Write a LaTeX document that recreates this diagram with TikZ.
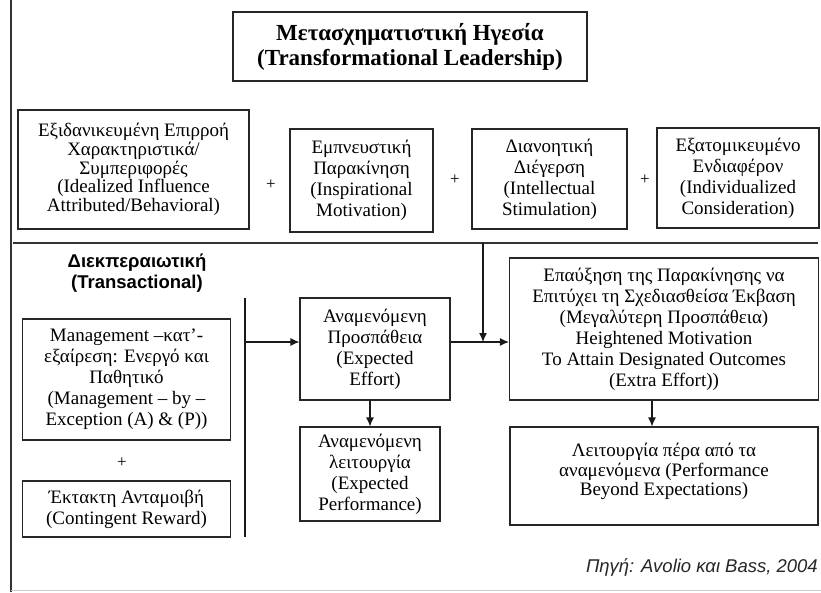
\documentclass[tikz,border=0pt]{standalone}
\usepackage{fontspec}
\setmainfont{Liberation Serif}
\setsansfont{Liberation Sans}
\usepackage{tikz}
\usetikzlibrary{calc,positioning,arrows.meta}

\begin{document}
\begin{tikzpicture}[x=1pt,y=-1pt]
\tikzstyle{box}=[draw=black!85, line width=1.1pt, align=center, inner sep=2pt,
                 font=\fontsize{19}{21}\selectfont]
\tikzstyle{plus}=[font=\fontsize{17}{17}\selectfont, inner sep=0pt]
\tikzstyle{arr}=[line width=1.1pt, draw=black!90, -{Latex[length=9pt,width=8pt]}]
\useasboundingbox (0,0) rectangle (821,592);
\draw[line width=1.5pt, black!80] (11,0) -- (11,592);
\draw[black!20] (11,590) -- (821,590);

\node[box, minimum width=354pt, minimum height=69pt,
      font=\bfseries\fontsize{23}{25}\selectfont] (T) at (410,46.5)
  {Μετασχηματιστική Ηγεσία\\(Transformational Leadership)};

% transformational factors
\node[box, minimum width=231pt, minimum height=119pt,
      font=\fontsize{19}{18.7}\selectfont] (II) at (133.5,169.5)
  {Εξιδανικευμένη Επιρροή\\Χαρακτηριστικά/\\Συμπεριφορές\\(Idealized Influence\\Attributed/Behavioral)};
\node[box, minimum width=143pt, minimum height=103pt] (IM) at (361.5,180.5)
  {Εμπνευστική\\Παρακίνηση\\(Inspirational\\Motivation)};
\node[box, minimum width=155pt, minimum height=100pt] (IS) at (549.5,179)
  {Διανοητική\\Διέγερση\\(Intellectual\\Stimulation)};
\node[box, minimum width=162pt, minimum height=100pt] (IC) at (738,178)
  {Εξατομικευμένο\\Ενδιαφέρον\\(Individualized\\Consideration)};
\node[plus] (p1) at (271,185) {+};
\node[plus] (p2) at (455,180) {+};
\node[plus] (p3) at (645,180) {+};

\coordinate (s1) at (13,243);
\coordinate (s2) at (818,243);
\draw[line width=1.5pt, black!80] (s1) -- (s2);

% transactional side
\node[align=center, font=\sffamily\bfseries\fontsize{18.5}{20.5}\selectfont] (TR) at (137,273)
  {Διεκπεραιωτική\\(Transactional)};
\node[box, minimum width=208pt, minimum height=121pt] (MbE) at (126.5,379.5)
  {Management –κατ’-\\εξαίρεση: Ενεργό και\\Παθητικό\\(Management – by –\\Exception (A) \& (P))};
\node[plus] (p4) at (122,463) {+};
\node[box, minimum width=208pt, minimum height=56pt] (CR) at (126.5,509)
  {Έκτακτη Ανταμοιβή\\(Contingent Reward)};
\coordinate (bt) at (245,298);
\coordinate (bb) at (245,537);
\coordinate (bj) at (245,342);
\draw[line width=1.1pt, black!90] (bt) -- (bb);

\node[box, minimum width=150pt, minimum height=102pt] (EE) at (375,349)
  {Αναμενόμενη\\Προσπάθεια\\(Expected\\Effort)};
\node[box, minimum width=140pt, minimum height=94pt] (EP) at (370,474)
  {Αναμενόμενη\\λειτουργία\\(Expected\\Performance)};
\node[box, minimum width=309pt, minimum height=142pt] (HM) at (664,329)
  {Επαύξηση της Παρακίνησης να\\Επιτύχει τη Σχεδιασθείσα Έκβαση\\(Μεγαλύτερη Προσπάθεια)\\Heightened Motivation\\To Attain Designated Outcomes\\(Extra Effort))};
\node[box, minimum width=308pt, minimum height=98pt,
      font=\fontsize{19}{19.5}\selectfont] (PB) at (664,476)
  {Λειτουργία πέρα από τα\\αναμενόμενα (Performance\\Beyond Expectations)\\[-7pt]};

\coordinate (sj) at (483,243);
\coordinate (j) at (483,342);
\draw[arr] (bj) -- (bj -| EE.west);
\draw[arr] (sj) -- (j);
\draw[arr] (j -| EE.east) -- (j -| HM.west);
\draw[arr] (EE.south -| EP.north) -- (EP.north);
\draw[arr] ([xshift=-12pt]HM.south) -- ([xshift=-12pt]HM.south |- PB.north);

\node[anchor=east, inner sep=0pt, black!85,
      font=\sffamily\itshape\fontsize{18.5}{20}\selectfont] (src) at (818,567)
  {Πηγή: Avolio και Bass, 2004};
\end{tikzpicture}
\end{document}
